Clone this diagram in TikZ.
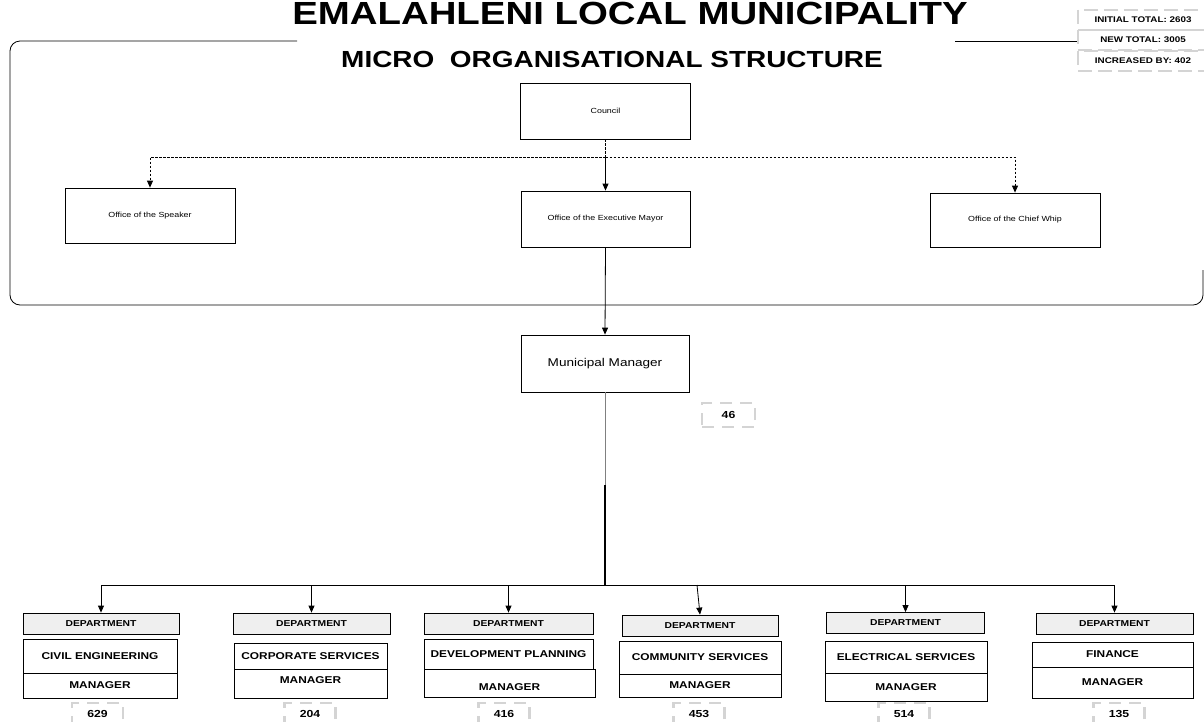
\documentclass[tikz,border=0pt]{standalone}
\usepackage{fontspec}
\setmainfont{Liberation Sans}[FakeStretch=1.2]
\usetikzlibrary{arrows.meta}
\definecolor{hdrgray}{HTML}{EFEFEF}
\definecolor{brk}{HTML}{D4D4D4}
\newcommand{\fs}[1]{\fontsize{#1}{#1}\selectfont}
\tikzset{
  box/.style={draw, line width=0.8pt, inner sep=0pt, font=\fs{7.4}},
  hdr/.style={draw, fill=hdrgray, line width=0.8pt, inner sep=0pt, font=\bfseries\fs{8.6}},
  dept/.style={draw, line width=0.8pt, inner sep=0pt, font=\bfseries\fs{9.9}},
  up/.style={text height=7.5pt, text depth=7pt},
  down/.style={text height=15pt, text depth=0pt},
  cnt/.style={draw=brk, line width=2.5pt, dash pattern=on 12pt off 8pt, inner sep=0pt, font=\bfseries\fs{10.2}},
  tot/.style={draw=brk, line width=2pt, dash pattern=on 14pt off 6pt, inner sep=0pt, font=\bfseries\fs{8.2}},
  arr/.style={-{Triangle[length=7pt,width=6pt]}, line width=0.8pt},
  dsh/.style={dash pattern=on 2.5pt off 1.5pt, line width=0.8pt}
}
\begin{document}
\begin{tikzpicture}[x=1pt,y=-1pt]
\useasboundingbox (0,0) rectangle (1204,721);
% frame
\coordinate (fl) at (297,41);
\coordinate (fr) at (955,41);
\draw[line width=0.8pt, rounded corners=10pt] (fl) -- (10,41) -- (10,305) -- (1203,305) -- (1203,270);
\coordinate (tb) at (1077,41);
\draw[line width=0.8pt] (fr) -- (tb);
% titles
\node[anchor=base, font=\bfseries\fs{32}] (title) at (630,24) {EMALAHLENI LOCAL MUNICIPALITY};
\node[anchor=base, font=\bfseries\fs{23.3}] (sub) at (612,67) {MICRO\ \ ORGANISATIONAL STRUCTURE};
% totals
\node[tot, minimum width=130pt, minimum height=20pt] (t1) at (1143,19.5) {INITIAL TOTAL: 2603};
\node[tot, minimum width=130pt, minimum height=20pt] (t2) at (1143,40) {NEW TOTAL: 3005};
\node[tot, minimum width=130pt, minimum height=20pt] (t3) at (1143,60.5) {INCREASED BY: 402};
% top boxes
\node[box, minimum width=170pt, minimum height=56pt] (council) at (605.5,111) {Council};
\node[box, minimum width=170pt, minimum height=55pt] (speaker) at (150,215.5) {Office of the Speaker};
\node[box, minimum width=169pt, minimum height=56pt] (mayor) at (605.5,219) {Office of the Executive Mayor};
\node[box, minimum width=170pt, minimum height=54pt] (whip) at (1015,220) {Office of the Chief Whip};
\node[box, minimum width=168pt, minimum height=57pt, font=\fs{11.3}] (mm) at (605,363.5) {Municipal Manager};
\node[cnt, minimum width=53pt, minimum height=24pt] (c0) at (728.5,415) {46};
% connectors top
\coordinate (jc) at (605.5,157);
\draw[dsh] (council.south) -- (jc);
\draw[dsh, arr] (jc) -| (speaker.north);
\draw[dsh, arr] (jc) -| (whip.north);
\draw[arr] (jc) -- (mayor.north);
\draw[arr] (mayor.south) -- (mm.north);
\coordinate (mid) at (605,485);
\coordinate (hb) at (605,585);
\draw[gray, line width=0.8pt] (mm.south) -- (mid);
\draw[line width=2.2pt] (mid) -- (hb);
% departments
\node[hdr, minimum width=156pt, minimum height=21pt] (h1) at (101,623.5) {DEPARTMENT};
\node[hdr, minimum width=157pt, minimum height=21pt] (h2) at (311.5,623.5) {DEPARTMENT};
\node[hdr, minimum width=169pt, minimum height=21pt] (h3) at (508.5,623.5) {DEPARTMENT};
\node[hdr, minimum width=156pt, minimum height=21pt] (h4) at (700,625.5) {DEPARTMENT};
\node[hdr, minimum width=158pt, minimum height=21pt] (h5) at (905.5,623) {DEPARTMENT};
\node[hdr, minimum width=157pt, minimum height=21pt] (h6) at (1114.5,623.5) {DEPARTMENT};
\coordinate (b1) at (101,585);
\coordinate (b2) at (311.5,585);
\coordinate (b3) at (508.5,585);
\coordinate (b4) at (697,585);
\coordinate (b5) at (905.5,585);
\coordinate (b6) at (1114.5,585);
\draw[line width=0.8pt] (b1) -- (b6);
\foreach \i in {1,...,6} \draw[arr] (b\i) -- (h\i.north);
% dept boxes
\node[dept, minimum width=154pt, minimum height=34pt] (d1a) at (100,656) {CIVIL ENGINEERING};
\node[dept, minimum width=154pt, minimum height=25pt] (d1b) at (100,685.5) {MANAGER};
\node[dept, minimum width=153pt, minimum height=26pt] (d2a) at (310.5,656) {CORPORATE SERVICES};
\node[dept, minimum width=153pt, minimum height=29pt, up] (d2b) at (310.5,683.5) {MANAGER};
\node[dept, minimum width=169pt, minimum height=30pt] (d3a) at (508.5,654) {DEVELOPMENT PLANNING};
\node[dept, minimum width=171pt, minimum height=28pt, down] (d3b) at (509.5,683) {MANAGER};
\node[dept, minimum width=162pt, minimum height=33pt] (d4a) at (700,657.5) {COMMUNITY SERVICES};
\node[dept, minimum width=162pt, minimum height=23pt] (d4b) at (700,685.5) {MANAGER};
\node[dept, minimum width=162pt, minimum height=32pt] (d5a) at (906,657) {ELECTRICAL SERVICES};
\node[dept, minimum width=162pt, minimum height=28pt] (d5b) at (906,687) {MANAGER};
\node[dept, minimum width=161pt, minimum height=25pt, line width=1pt] (d6a) at (1112.5,654.5) {FINANCE};
\node[dept, minimum width=161pt, minimum height=31pt] (d6b) at (1112.5,682.5) {MANAGER};
% counts
\tikzset{cb/.style={cnt, minimum width=51pt, minimum height=25pt, text height=7.5pt, text depth=3pt}}
\node[cb] (c1) at (97.5,715.5) {629};
\node[cb] (c2) at (310,715.5) {204};
\node[cb] (c3) at (504,715.5) {416};
\node[cb] (c4) at (699,715.5) {453};
\node[cb] (c5) at (904,715.5) {514};
\node[cb] (c6) at (1119,715.5) {135};
\end{tikzpicture}
\end{document}
